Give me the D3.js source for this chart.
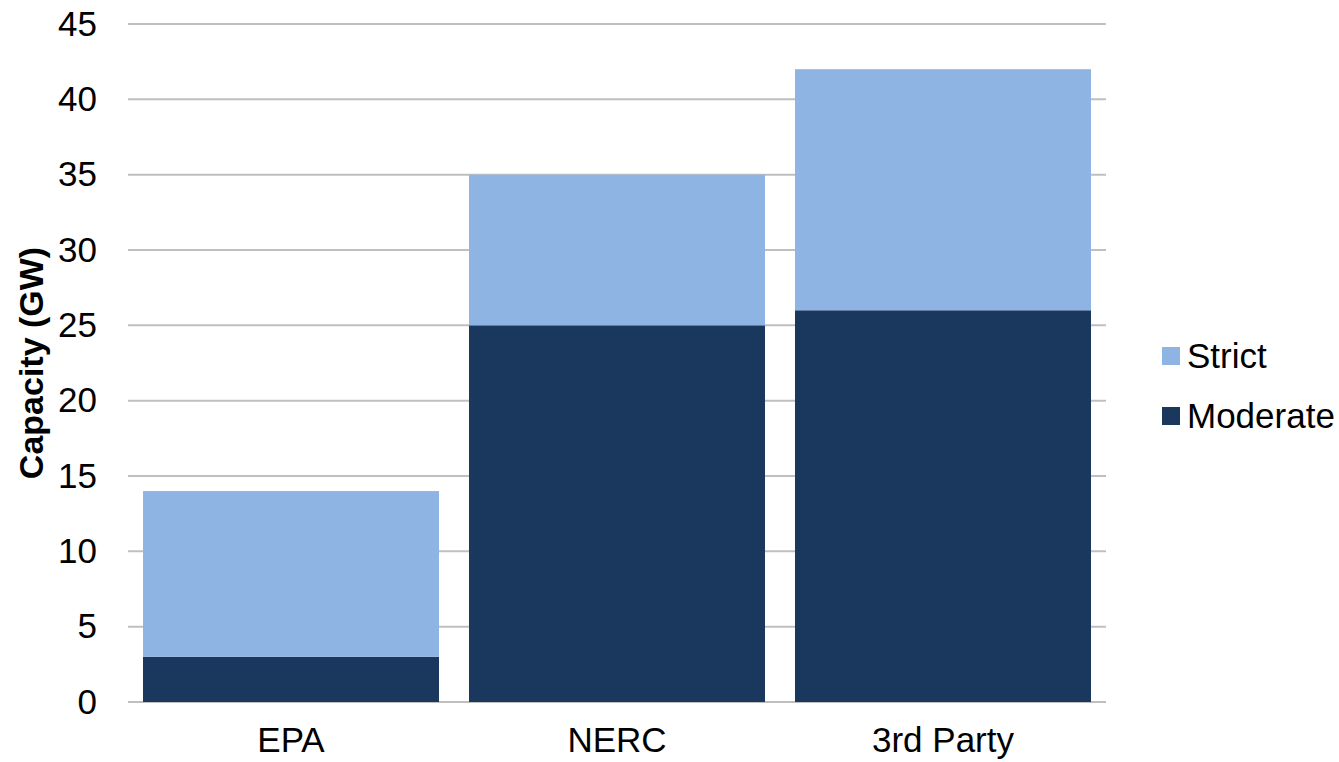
<!DOCTYPE html>
<html>
<head>
<meta charset="utf-8">
<script src="https://cdn.jsdelivr.net/npm/d3@7"></script>
<style>
  html, body { margin: 0; padding: 0; background: #fff; }
  svg { display: block; font-family: "Liberation Sans", Arial, sans-serif; }
</style>
</head>
<body>
<svg id="chart" width="1339" height="762"></svg>
<script>
const categories = ["EPA", "NERC", "3rd Party"];
const moderate = [3, 25, 26];
const strict = [11, 10, 16];
const seriesNames = ["Moderate", "Strict"];
const yTicks = [0, 5, 10, 15, 20, 25, 30, 35, 40, 45];
const colors = { Moderate: "#1A375E", Strict: "#8EB4E3" };

const svg = d3.select("#chart");
const margin = { left: 128, right: 233, top: 24, bottom: 60 };
const W = 1339, H = 762;
const FS = 35;

const x = d3.scaleBand().domain(categories)
  .range([margin.left, W - margin.right])
  .paddingInner(0.092).paddingOuter(0.046);
const y = d3.scaleLinear().domain([0, 45]).range([H - margin.bottom, margin.top]);

// gridlines
svg.append("g").selectAll("line").data(yTicks).join("line")
  .attr("x1", margin.left).attr("x2", W - margin.right)
  .attr("y1", d => y(d)).attr("y2", d => y(d))
  .attr("stroke", "#BFBFBF").attr("stroke-width", 2);

// stacked data
const rows = categories.map((c, i) => ({ cat: c, Moderate: moderate[i], Strict: strict[i] }));
const stack = d3.stack().keys(seriesNames)(rows);

svg.append("g").selectAll("g").data(stack).join("g")
  .attr("fill", d => colors[d.key])
  .selectAll("rect").data(d => d).join("rect")
  .attr("x", d => x(d.data.cat))
  .attr("width", x.bandwidth())
  .attr("y", d => y(d[1]))
  .attr("height", d => y(d[0]) - y(d[1]));

// y axis
const yAxis = d3.axisLeft(y).tickValues(yTicks).tickSize(0).tickPadding(31);
const yg = svg.append("g").attr("transform", `translate(${margin.left},0)`).call(yAxis);
yg.select(".domain").remove();
yg.selectAll("text").attr("font-size", FS).attr("fill", "#000")
  .attr("font-family", "Liberation Sans, Arial, sans-serif");

// x axis
const xAxis = d3.axisBottom(x).tickSize(0).tickPadding(25);
const xg = svg.append("g").attr("transform", `translate(0,${H - margin.bottom})`).call(xAxis);
xg.select(".domain").remove();
xg.selectAll("text").attr("font-size", FS).attr("fill", "#000")
  .attr("font-family", "Liberation Sans, Arial, sans-serif");

// y title
svg.append("text")
  .attr("transform", `translate(43,${(y(0) + y(45)) / 2}) rotate(-90)`)
  .attr("text-anchor", "middle")
  .attr("font-size", 34).attr("font-weight", "bold").attr("fill", "#000")
  .text("Capacity (GW)");

// legend
const legendItems = ["Strict", "Moderate"];
const lg = svg.append("g").selectAll("g").data(legendItems).join("g")
  .attr("transform", (d, i) => `translate(1162,${356 + i * 60})`);
lg.append("rect").attr("x", 0).attr("y", -9).attr("width", 18).attr("height", 18)
  .attr("fill", d => colors[d]);
lg.append("text").attr("x", 25).attr("y", 0).attr("dy", "0.35em")
  .attr("font-size", FS).attr("fill", "#000").text(d => d);
</script>
</body>
</html>
